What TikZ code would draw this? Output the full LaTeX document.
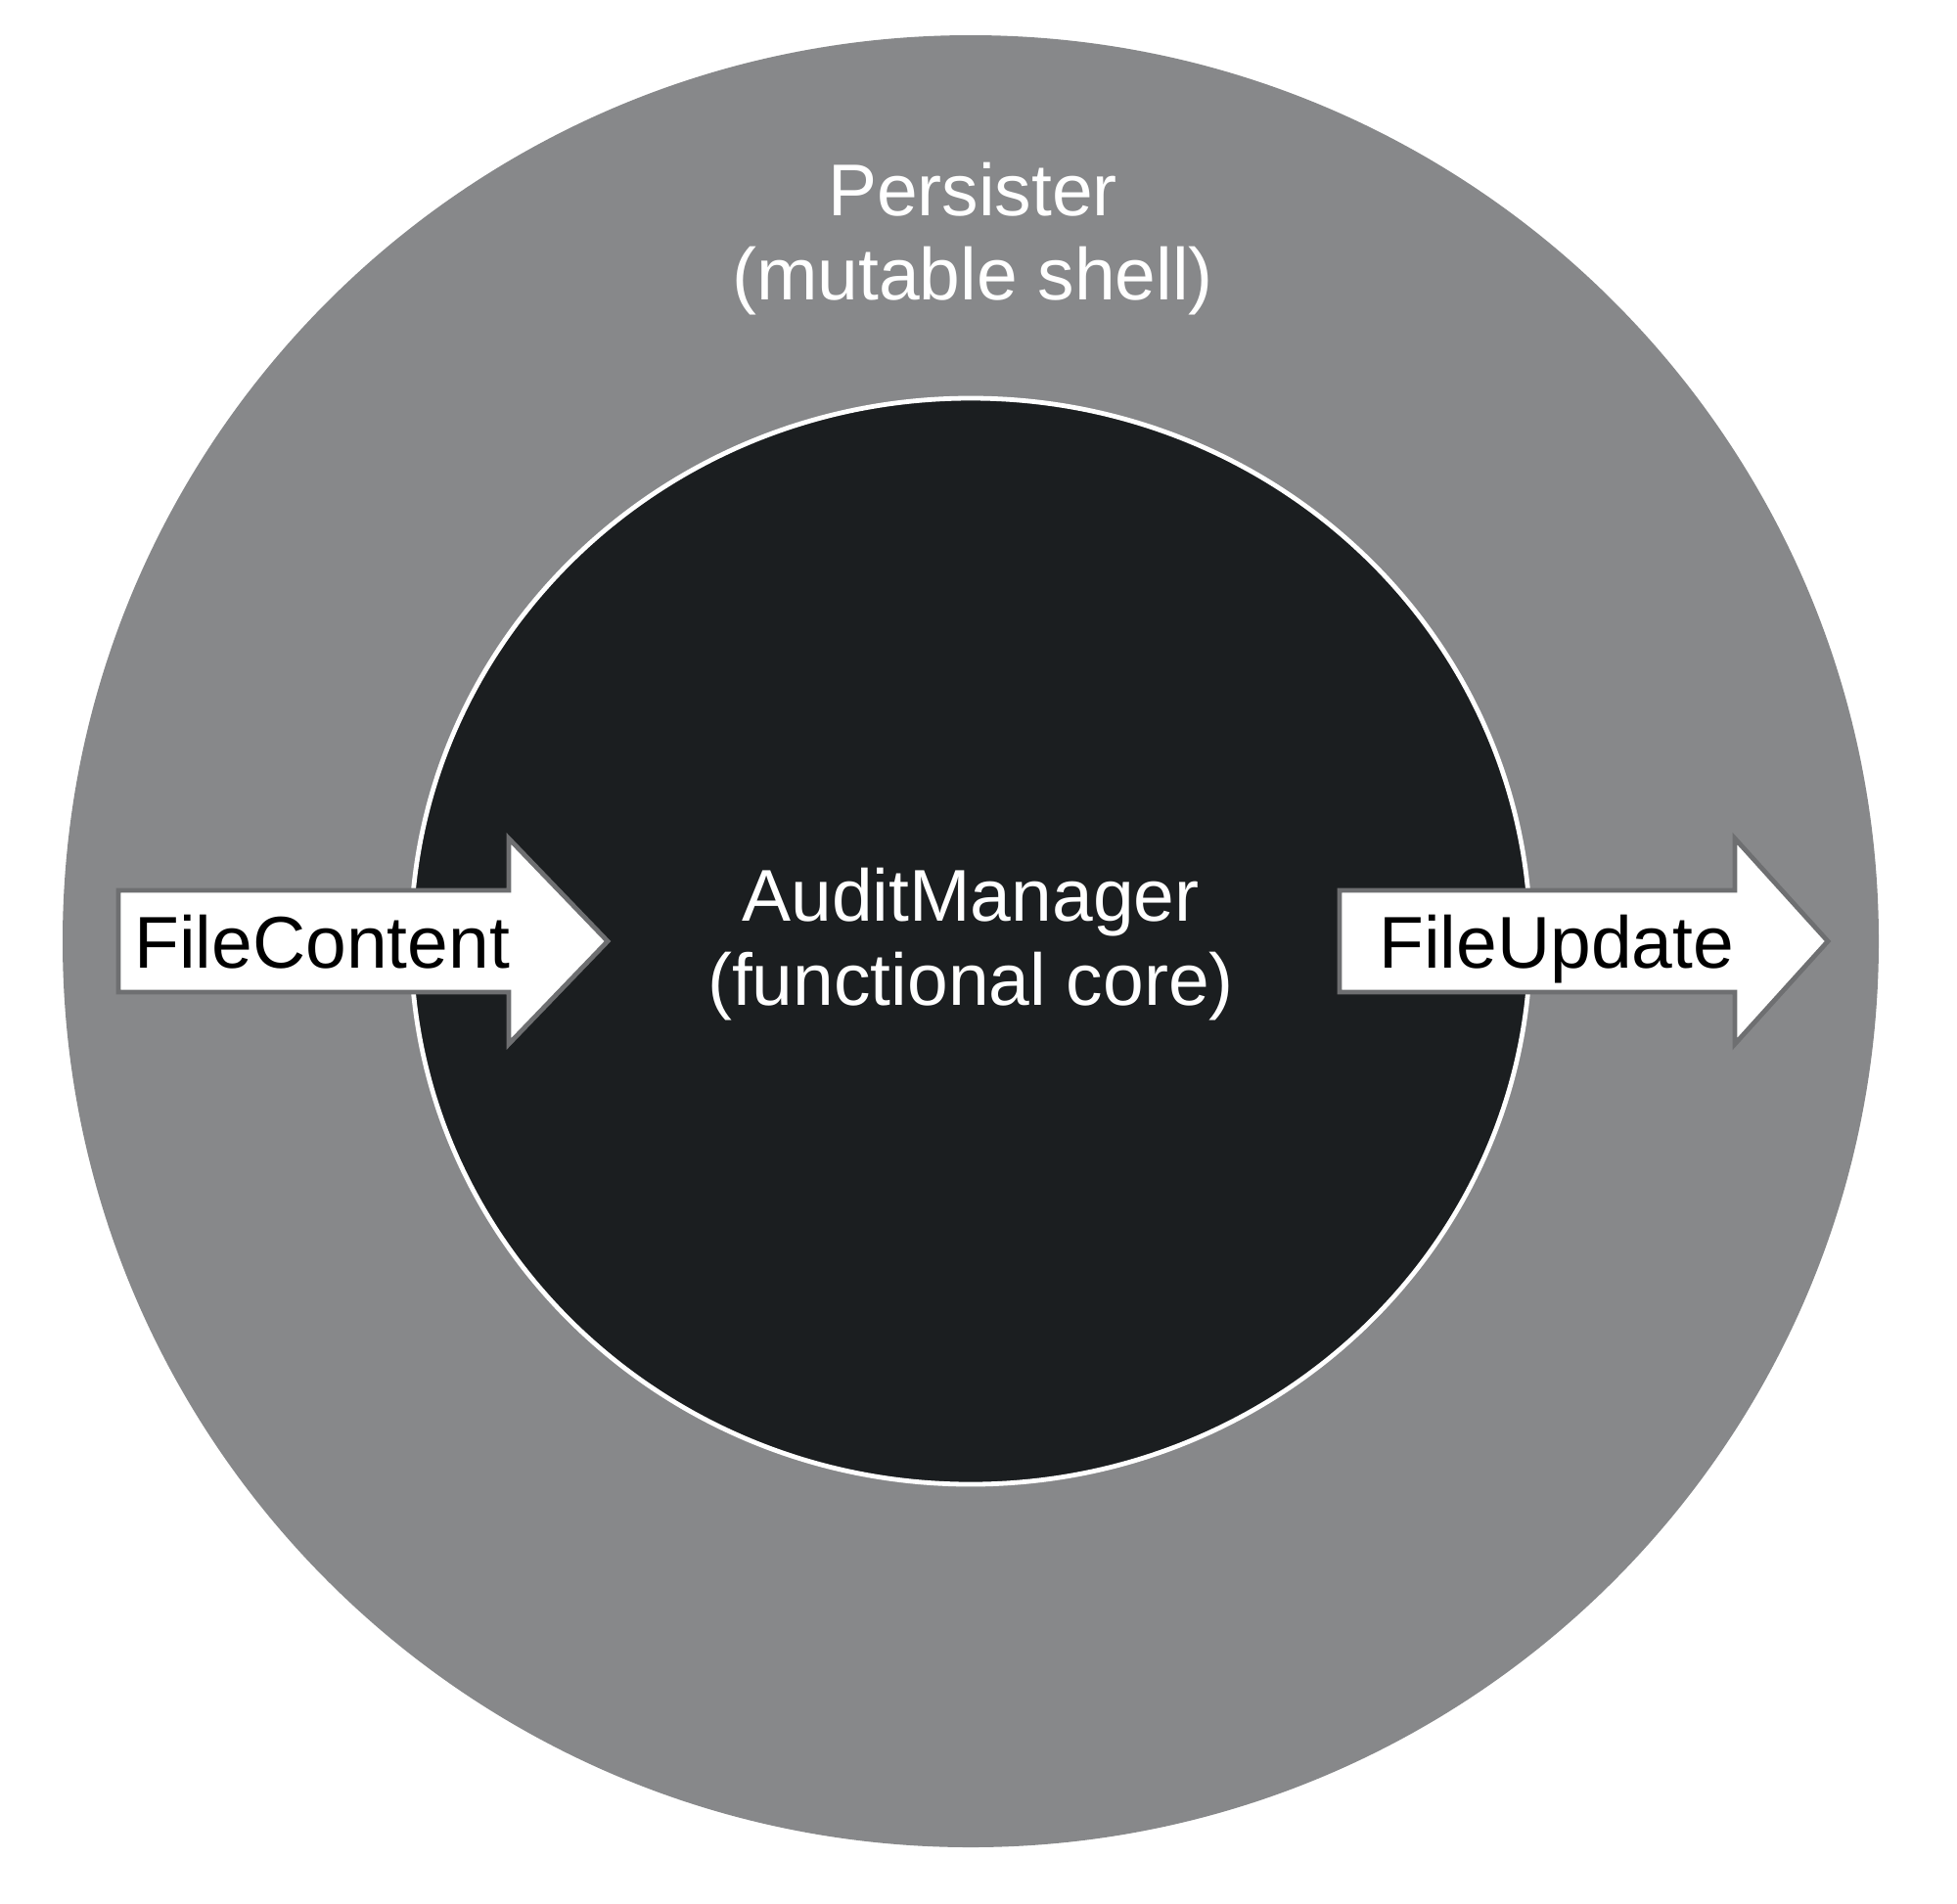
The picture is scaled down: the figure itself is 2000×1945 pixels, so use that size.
\documentclass[tikz,border=0pt]{standalone}
\usepackage{fontspec}
\setmainfont{Liberation Sans}
\definecolor{shellgray}{HTML}{87888A}
\definecolor{coreblack}{HTML}{1B1E20}
\definecolor{arrowedge}{HTML}{6E6F71}
\begin{document}
\begin{tikzpicture}[x=0.5pt,y=-0.5pt,
  lbl/.style={font=\fontsize{37.5pt}{43pt}\selectfont, inner sep=0pt, align=center},
  flowarrow/.style={fill=white, draw=arrowedge, line width=2.4pt, line join=miter},
  flowtext/.style={font=\fontsize{37.5pt}{43pt}\selectfont, inner sep=0pt, text=black, anchor=base west}]
\useasboundingbox[fill=white] (0,0) rectangle (2000,1945);
% outer shell
\fill[shellgray] (992,962) ellipse [x radius=928, y radius=926];
\node[lbl, text=white, anchor=base] (shell) at (994,306) {Persister\\(mutable shell)};
% inner core
\fill[coreblack, draw=white, line width=2.4pt] (992,962) ellipse [x radius=572, y radius=555];
\node[lbl, text=white, anchor=base] (core) at (992,1027) {AuditManager\\(functional core)};
% input arrow
\draw[flowarrow] (121,910) -- (520,910) -- (520,857) -- (621,962) -- (520,1067) -- (520,1014) -- (121,1014) -- cycle;
\node[flowtext] (filecontent) at (137,989) {FileContent};
% output arrow
\draw[flowarrow] (1369,910) -- (1773,910) -- (1773,857) -- (1868,962) -- (1773,1067) -- (1773,1014) -- (1369,1014) -- cycle;
\node[flowtext] (fileupdate) at (1409,989) {FileUpdate};
\end{tikzpicture}
\end{document}
